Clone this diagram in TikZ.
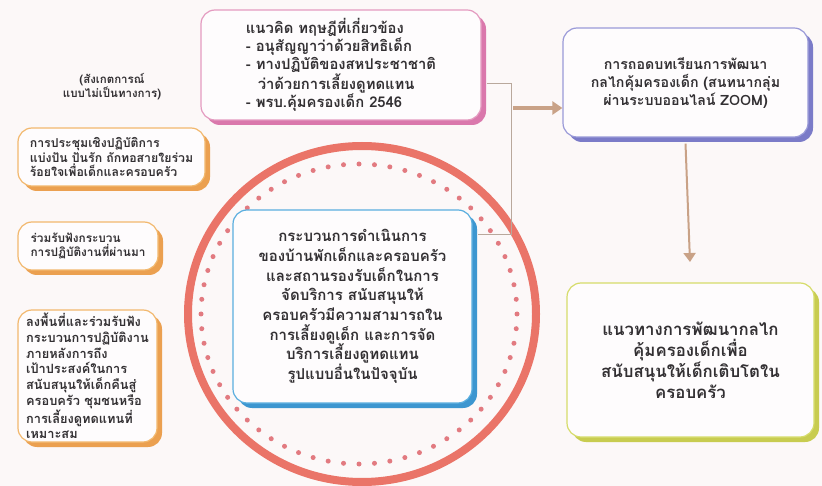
\documentclass[tikz,border=0pt]{standalone}
\usepackage{fontspec}
\newfontfamily\thai[Script=Thai]{Loma}
\usetikzlibrary{arrows.meta,shadows,calc}
\definecolor{bg}{HTML}{FCF8F8}
\definecolor{boxfill}{HTML}{FEFCFD}
\definecolor{txt}{HTML}{333033}
\definecolor{pinkb}{HTML}{E49BC0}
\definecolor{pinks}{HTML}{DA78AC}
\definecolor{purpb}{HTML}{9A9AD8}
\definecolor{purps}{HTML}{7B7BC8}
\definecolor{yelb}{HTML}{D6DC6A}
\definecolor{yels}{HTML}{C8CC50}
\definecolor{blueb}{HTML}{5AAEDF}
\definecolor{blues}{HTML}{3C96D0}
\definecolor{orab}{HTML}{F2B86E}
\definecolor{oras}{HTML}{EBA050}
\definecolor{ringc}{HTML}{EA7468}
\definecolor{dotc}{HTML}{E27A80}
\definecolor{linec}{HTML}{B9A89C}
\definecolor{arrc}{HTML}{C9A287}
\newcommand{\tf}[2]{\thai\bfseries\fontsize{#1}{#2}\selectfont}
\tikzset{
  box/.style={rounded corners=14pt, fill=boxfill, line width=1.2pt, text=txt, inner sep=0pt},
  shad/.style={drop shadow={shadow xshift=5pt, shadow yshift=-5pt, fill=#1, opacity=1}},
  conn/.style={draw=linec, line width=1pt},
  bigarrow/.style={draw=arrc, line width=3.5pt, -{Triangle[width=13pt,length=10pt]}},
  downarrow/.style={draw=arrc, line width=2pt, -{Triangle[width=12pt,length=9pt]}}
}
\begin{document}
\begin{tikzpicture}[x=1pt,y=-1pt]
\fill[bg] (0,0) rectangle (822,486);
\useasboundingbox (0,0) rectangle (822,486);
% ring and dotted ring
\draw[ringc, line width=8pt] (362,314) ellipse [x radius=174, y radius=168];
\foreach \a in {0,5.625,...,354.375}
  \fill[dotc] ($(359,314)+(\a:158 and 150)$) circle (2.5);
% boxes
\node[box, draw=pinkb, shad=pinks, minimum width=280pt, minimum height=110pt, align=left, font=\tf{14.8}{18}] (pink) at (341,65)
  {แนวคิด ทฤษฎีที่เกี่ยวข้อง\\- อนุสัญญาว่าด้วยสิทธิเด็ก\\- ทางปฏิบัติของสหประชาชาติ\hspace*{16pt}\\\hspace*{0.8em}ว่าด้วยการเลี้ยงดูทดแทน\\- พรบ.คุ้มครองเด็ก 2546};
\node[box, draw=purpb, shad=purps, minimum width=245pt, minimum height=109pt, align=center, font=\tf{14.2}{18}] (purp) at (685.5,82.5)
  {การถอดบทเรียนการพัฒนา\\กลไกคุ้มครองเด็ก (สนทนากลุ่ม\\ผ่านระบบออนไลน์ ZOOM)};
\node[box, draw=yelb, shad=yels, minimum width=247pt, minimum height=154pt, align=center, font=\tf{16.8}{21}] (yel) at (690.5,360)
  {แนวทางการพัฒนากลไก\\คุ้มครองเด็กเพื่อ\\สนับสนุนให้เด็กเติบโตใน\\ครอบครัว};
\node[box, draw=blueb, shad=blues, minimum width=239pt, minimum height=193pt, align=center, font=\tf{15}{19.7}] (blue) at (352.5,306.5)
  {กระบวนการดำเนินการ\\ของบ้านพักเด็กและครอบครัว\\และสถานรองรับเด็กในการ\\จัดบริการ สนับสนุนให้\\ครอบครัวมีความสามารถใน\\การเลี้ยงดูเด็ก และการจัด\\บริการเลี้ยงดูทดแทน\\รูปแบบอื่นในปัจจุบัน};
\node[text=txt, align=center, font=\tf{11.5}{14}] (lab) at (112,87)
  {(สังเกตการณ์\\แบบไม่เป็นทางการ)};
\node[box, draw=orab, shad=oras, minimum width=187pt, minimum height=58pt, align=left, font=\tf{12.3}{14.5}] (or1) at (111.5,157)
  {การประชุมเชิงปฏิบัติการ\\แบ่งปัน ปันรัก ถักทอสายใยร่วม\\ร้อยใจเพื่อเด็กและครอบครัว};
\node[box, draw=orab, shad=oras, minimum width=140pt, minimum height=48pt, align=left, font=\tf{11.8}{14.5}] (or2) at (88,246)
  {ร่วมรับฟังกระบวน\\การปฏิบัติงานที่ผ่านมา};
\node[box, draw=orab, shad=oras, minimum width=139pt, minimum height=132pt, align=left, font=\tf{12.8}{15.7}] (or3) at (87.5,376)
  {ลงพื้นที่และร่วมรับฟัง\\กระบวนการปฏิบัติงาน\\ภายหลังการถึง\\เป้าประสงค์ในการ\\สนับสนุนให้เด็กคืนสู่\\ครอบครัว ชุมชนหรือ\\การเลี้ยงดูทดแทนที่\\เหมาะสม};
% connectors
\coordinate (j1) at (511,84);
\coordinate (j2) at (511,235);
\coordinate (a1) at (513,108);
\coordinate (d1) at (690,262);
\draw[conn] ([xshift=5pt]pink.east |- j1) -- (j1) -- (j2) -- ([xshift=5pt]blue.east |- j2);
\draw[bigarrow] (a1) -- (purp.west |- a1);
\draw[downarrow] ([yshift=-6pt]purp.south) -- (d1);
\end{tikzpicture}
\end{document}
